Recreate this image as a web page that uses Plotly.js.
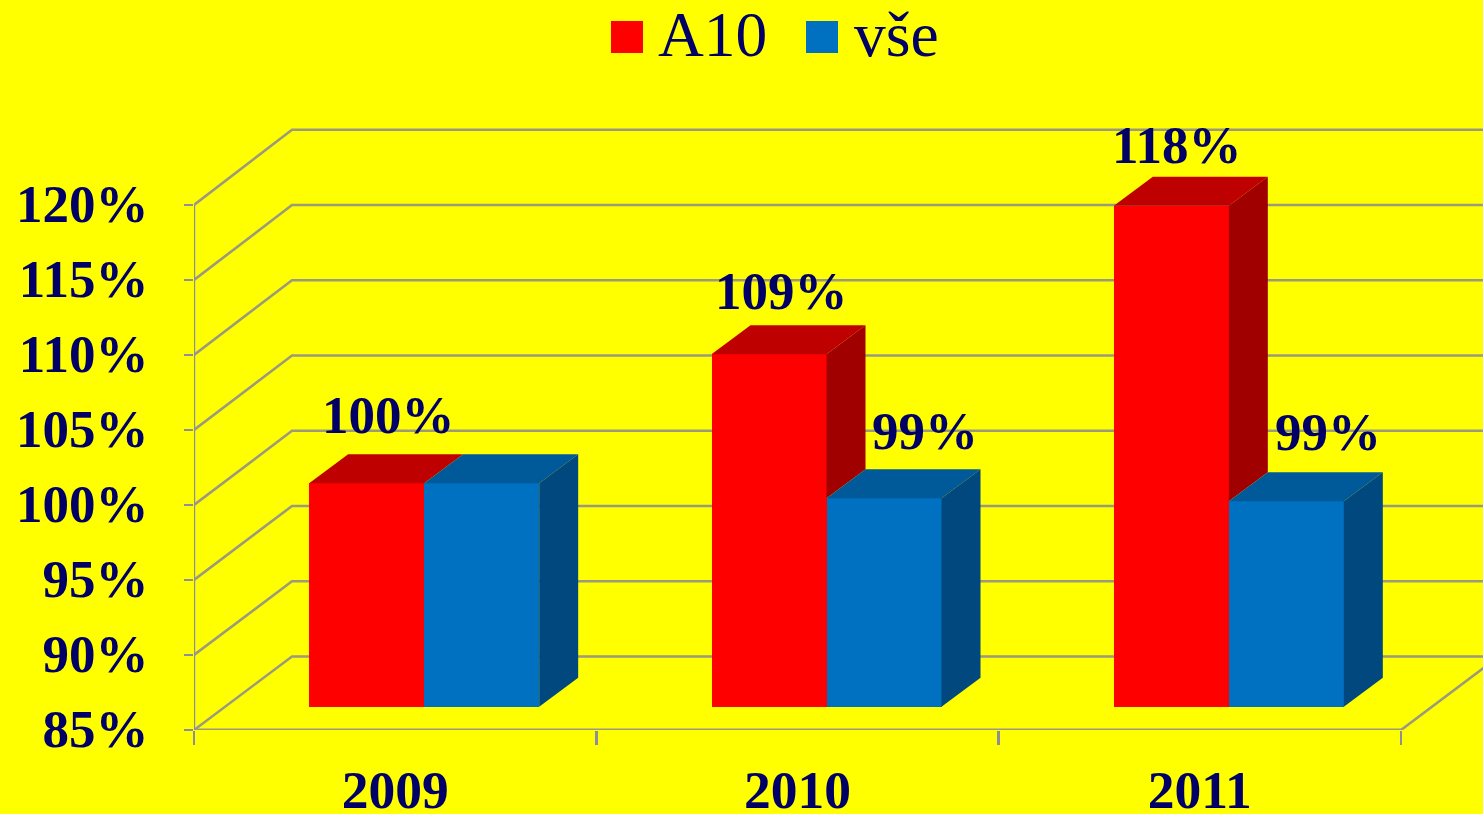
<!DOCTYPE html>
<html>
<head>
<meta charset="utf-8">
<script src="https://cdn.plot.ly/plotly-3.0.1.min.js"></script>
<style>html,body{margin:0;padding:0;background:#ffff00;overflow:hidden}#c{width:1483px;height:814px}</style>
</head>
<body>
<div id="c"></div>
<script>
const years = ['2009', '2010', '2011'];
const a10 = [99.9, 108.5, 118.4];
const vse = [99.9, 98.9, 98.7];
const a10Labels = ['100%', '109%', '118%'];
const vseLabels = ['', '99%', '99%'];
const yTicks = [85, 90, 95, 100, 105, 110, 115, 120];

const W = 1483, H = 814, L = 194, B = 84;
const catPx = 402.33, pctPx = 15;
const depthX = 98 / catPx;
const barW = 115 / catPx;
const frontX = 29 / catPx, frontY = 1.55;
const barDX = 39 / catPx, barDY = 1.94;
const baseV = 85 + frontY;
const xMax = (W - L) / catPx;
const yMax = 85 + (H - B) / pctPx;
const backLevel = v => 89.9 + (v - 85) * 1.00333;

const NAVY = '#000066', GRID = '#9b9a7c', AXIS = '#8e8e9a';
const C = {
  red: {front: '#ff0000', side: '#a00000', top: '#bf0000'},
  blue: {front: '#0070c0', side: '#00487e', top: '#005a9a'}
};

function bar(name, vals, sign, col) {
  return {
    type: 'bar', name: name, showlegend: false,
    x: years.map((_, i) => i + 0.5 + frontX + sign * barW / 2),
    y: vals.map(v => v - 85), base: vals.map(() => baseV),
    width: vals.map(() => barW),
    marker: {color: col.front, line: {width: 0}}
  };
}
function poly(xs, ys, color) {
  return {type: 'scatter', mode: 'lines', x: xs, y: ys, fill: 'toself', fillcolor: color,
          line: {width: 0, color: color}, showlegend: false, hoverinfo: 'skip'};
}
const traces = [bar('A10', a10, -1, C.red), bar('vše', vse, 1, C.blue)];
years.forEach((_, i) => {
  const cx = i + 0.5 + frontX;
  const lr = cx - barW, mid = cx, rr = cx + barW;
  const ra = a10[i] + frontY, bl = vse[i] + frontY;
  const low = Math.min(ra, Math.max(bl, baseV));
  // red right side, only the part above the blue block
  traces.push(poly([mid, mid + barDX, mid + barDX, mid, mid],
                   [ra, ra + barDY, low + barDY, low, ra], C.red.side));
  traces.push(poly([lr, lr + barDX, mid + barDX, mid, lr],
                   [ra, ra + barDY, ra + barDY, ra, ra], C.red.top));
  traces.push(poly([mid, mid + barDX, rr + barDX, rr, mid],
                   [bl, bl + barDY, bl + barDY, bl, bl], C.blue.top));
  traces.push(poly([rr, rr + barDX, rr + barDX, rr, rr],
                   [bl, bl + barDY, baseV + barDY, baseV, bl], C.blue.side));
});

const shapes = [];
yTicks.forEach(v => {
  const b = backLevel(v);
  shapes.push({type: 'path', layer: 'below', xref: 'x', yref: 'y',
    path: `M0,${v} L${depthX},${b} L${3 + depthX},${b}`,
    line: {color: GRID, width: 2.6}});
});
shapes.push({type: 'line', layer: 'below', xref: 'x', yref: 'y', x0: 3, x1: 3 + depthX, y0: 85, y1: backLevel(85), line: {color: GRID, width: 2.6}});
shapes.push({type: 'line', layer: 'below', xref: 'x', yref: 'y', x0: 0, x1: 3, y0: 85, y1: 85, line: {color: GRID, width: 3.2}});
shapes.push({type: 'line', layer: 'below', xref: 'x', yref: 'y', x0: 0, x1: 0, y0: 85, y1: 120, line: {color: AXIS, width: 2.4}});

// legend swatches
const px = x => (x - L) / (W - L), py = y => (H - B - y) / (H - B);
[[611, 643, C.red.front], [806, 838, C.blue.front]].forEach(s => {
  shapes.push({type: 'rect', xref: 'paper', yref: 'paper', x0: px(s[0]), x1: px(s[1]),
    y0: py(53), y1: py(21), fillcolor: s[2], line: {width: 0}});
});

const labelFont = {family: '"Liberation Serif", serif', size: 53, color: NAVY, weight: 700};
const legendFont = {family: '"Liberation Serif", serif', size: 63.5, color: NAVY};
const annotations = [];
const a10Shift = [[22, 39], [12.5, 34], [6, 32]];
const vseShift = [[0, 0], [41, 38], [42, 40]];
years.forEach((_, i) => {
  const cx = i + 0.5 + frontX;
  annotations.push({x: cx - barW / 2, y: a10[i] + frontY, xref: 'x', yref: 'y', text: '<b>' + a10Labels[i] + '</b>',
    showarrow: false, font: labelFont, yanchor: 'middle', xanchor: 'center', xshift: a10Shift[i][0], yshift: a10Shift[i][1] + 29});
  if (vseLabels[i]) annotations.push({x: cx + barW / 2, y: vse[i] + frontY, xref: 'x', yref: 'y', text: '<b>' + vseLabels[i] + '</b>',
    showarrow: false, font: labelFont, yanchor: 'middle', xanchor: 'center', xshift: vseShift[i][0], yshift: vseShift[i][1] + 29});
});
annotations.push({xref: 'paper', yref: 'paper', x: px(657), y: py(34), text: 'A10', showarrow: false, xanchor: 'left', yanchor: 'middle', font: legendFont, borderpad: 0});
annotations.push({xref: 'paper', yref: 'paper', x: px(853), y: py(34), text: 'vše', showarrow: false, xanchor: 'left', yanchor: 'middle', font: legendFont, borderpad: 0});

const layout = {
  width: W, height: H, margin: {l: L, r: 0, t: 0, b: B, pad: 0},
  paper_bgcolor: '#ffff00', plot_bgcolor: '#ffff00',
  showlegend: false, hovermode: false, barmode: 'overlay', bargap: 0,
  xaxis: {type: 'linear', range: [0, xMax], fixedrange: true, showgrid: false, zeroline: false, showline: false,
    tickmode: 'array', tickvals: years.map((_, i) => i + 0.5), ticktext: years, ticks: '',
    tickfont: {family: '"Liberation Serif", serif', size: 53.5, color: NAVY, weight: 700}, ticklabelstandoff: 23,
    minor: {tickmode: 'array', tickvals: [0, 1, 2, 3], ticks: 'outside', ticklen: 14, tickwidth: 2.4, tickcolor: AXIS, showgrid: false}},
  yaxis: {type: 'linear', range: [85, yMax], fixedrange: true, showgrid: false, zeroline: false, showline: false,
    tickmode: 'array', tickvals: yTicks, ticktext: yTicks.map(v => v + '%'), ticks: 'outside', ticklen: 9, tickwidth: 2.4, tickcolor: AXIS,
    tickfont: {family: '"Liberation Serif", serif', size: 53, color: NAVY, weight: 700}, ticklabelstandoff: 25, ticklabelshift: -2},
  shapes: shapes, annotations: annotations
};
Plotly.newPlot('c', traces, layout, {displayModeBar: false, staticPlot: true});
</script>
</body>
</html>
